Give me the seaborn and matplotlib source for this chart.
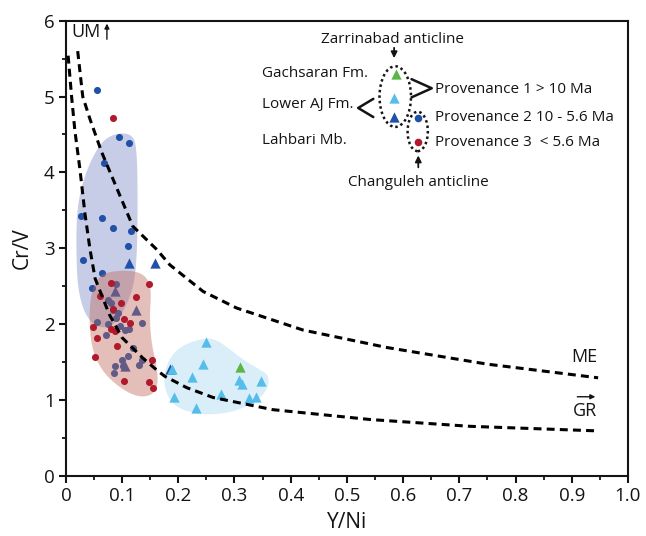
import numpy as np
import pandas as pd
import matplotlib
matplotlib.use("Agg")
import matplotlib.pyplot as plt
from matplotlib.patches import Ellipse
from matplotlib.ticker import MultipleLocator, FixedLocator, FixedFormatter
import seaborn as sns

# ---- samples: Y/Ni vs Cr/V ----
prov2_x = [0.055, 0.095, 0.113, 0.068, 0.027, 0.065, 0.083, 0.116, 0.110, 0.031, 0.0635, 0.047,
           0.090, 0.075, 0.081, 0.084, 0.093, 0.089, 0.056, 0.075, 0.096, 0.136, 0.105, 0.113,
           0.072, 0.119, 0.111, 0.136, 0.130, 0.099, 0.087, 0.101, 0.085]
prov2_y = [5.09, 4.47, 4.39, 4.12, 3.42, 3.40, 3.27, 3.23, 3.03, 2.84, 2.67, 2.47,
           2.53, 2.32, 2.28, 2.18, 2.15, 2.08, 2.02, 2.00, 1.98, 2.01, 1.92, 1.93,
           1.86, 1.68, 1.58, 1.52, 1.46, 1.52, 1.45, 1.44, 1.36]

lahbari_x = [0.112, 0.158, 0.087, 0.124, 0.105, 0.186]
lahbari_y = [2.81, 2.81, 2.43, 2.19, 1.44, 1.40]

prov3_x = [0.084, 0.081, 0.148, 0.060, 0.098, 0.124, 0.083, 0.104, 0.114, 0.080, 0.087,
           0.049, 0.056, 0.091, 0.052, 0.154, 0.103, 0.148, 0.155]
prov3_y = [4.72, 2.54, 2.53, 2.37, 2.28, 2.35, 2.20, 2.06, 2.01, 1.94, 1.91,
           1.96, 1.82, 1.71, 1.57, 1.52, 1.25, 1.23, 1.16]

lower_aj_x = [0.249, 0.244, 0.189, 0.224, 0.308, 0.314, 0.348, 0.193, 0.276, 0.326, 0.339, 0.231]
lower_aj_y = [1.76, 1.47, 1.41, 1.30, 1.26, 1.21, 1.25, 1.04, 1.08, 1.02, 1.04, 0.89]

gach_x = [0.310]
gach_y = [1.43]

# ---- field envelopes ----
env_blue_x = [0.098, 0.116, 0.126, 0.128, 0.126, 0.114, 0.082, 0.043, 0.021, 0.018, 0.021, 0.037, 0.060, 0.078]
env_blue_y = [4.52, 4.50, 4.37, 3.64, 2.73, 2.32, 1.93, 1.99, 2.39, 3.12, 3.61, 4.04, 4.37, 4.48]

env_red_x = [0.072, 0.105, 0.132, 0.146, 0.152, 0.149, 0.152, 0.164, 0.162, 0.146, 0.123, 0.096, 0.066, 0.046, 0.041, 0.046, 0.060]
env_red_y = [2.68, 2.71, 2.68, 2.59, 2.43, 2.10, 1.75, 1.36, 1.13, 1.04, 1.05, 1.16, 1.36, 1.66, 2.10, 2.45, 2.63]

env_lb_x = [0.247, 0.203, 0.179, 0.173, 0.191, 0.238, 0.286, 0.322, 0.357, 0.363, 0.345, 0.315, 0.286, 0.268]
env_lb_y = [1.82, 1.71, 1.49, 1.18, 0.91, 0.80, 0.82, 0.91, 1.09, 1.31, 1.40, 1.53, 1.70, 1.79]

# ---- discrimination boundaries ----
me_x = [0.021, 0.030, 0.043, 0.0635, 0.119, 0.162, 0.185, 0.244, 0.304, 0.422, 0.571, 0.75, 0.947]
me_y = [5.60, 5.00, 4.70, 4.27, 3.29, 2.98, 2.78, 2.43, 2.21, 1.92, 1.69, 1.47, 1.29]

gr_x = [0.004, 0.010, 0.016, 0.025, 0.034, 0.043, 0.052, 0.077, 0.100, 0.137, 0.162, 0.176,
        0.215, 0.262, 0.368, 0.541, 0.719, 0.945]
gr_y = [5.54, 5.01, 4.55, 4.04, 3.45, 2.98, 2.60, 2.13, 1.82, 1.55, 1.39, 1.31,
        1.16, 1.03, 0.87, 0.74, 0.65, 0.59]

x_ticks = [0, 0.1, 0.2, 0.3, 0.4, 0.5, 0.6, 0.7, 0.8, 0.9, 1.0]
x_ticklabels = ["0", "0.1", "0.2", "0.3", "0.4", "0.5", "0.6", "0.7", "0.8", "0.9", "1.0"]
y_ticks = [0, 1, 2, 3, 4, 5, 6]

C_BLUE = "#2051a6"
C_RED = "#b11a2c"
C_LBLUE = "#55bdea"
C_GREEN = "#5db546"
INK = "#141414"

sns.set_style("ticks")
plt.rcParams["font.family"] = ["Open Sans", "DejaVu Sans"]
plt.rcParams["text.color"] = INK
plt.rcParams["axes.labelcolor"] = INK
plt.rcParams["axes.linewidth"] = 1.5
plt.rcParams["xtick.major.width"] = 1.5
plt.rcParams["ytick.major.width"] = 1.5
plt.rcParams["xtick.minor.width"] = 1.3
plt.rcParams["ytick.minor.width"] = 1.3


def chaikin(x, y, n=4):
    pts = np.column_stack([x, y])
    for _ in range(n):
        nxt = np.roll(pts, -1, axis=0)
        q = 0.75 * pts + 0.25 * nxt
        r = 0.25 * pts + 0.75 * nxt
        pts = np.empty((2 * len(q), 2))
        pts[0::2] = q
        pts[1::2] = r
    return pts[:, 0], pts[:, 1]


fig = plt.figure(figsize=(6.46, 5.36), dpi=100)
ax = fig.add_axes([0.102, 0.1127, 0.870, 0.8485])

# blue and light-blue fields with their samples
bx, by = chaikin(env_blue_x, env_blue_y)
ax.fill(bx, by, color="#7b86c8", alpha=0.42, lw=0, zorder=1)
lx, ly = chaikin(env_lb_x, env_lb_y)
ax.fill(lx, ly, color="#9fd3f3", alpha=0.38, lw=0, zorder=1)

df2 = pd.DataFrame({"x": prov2_x, "y": prov2_y})
sns.scatterplot(data=df2, x="x", y="y", color=C_BLUE, s=26, marker="o", linewidth=0, ax=ax, zorder=2)
dfl = pd.DataFrame({"x": lahbari_x, "y": lahbari_y})
sns.scatterplot(data=dfl, x="x", y="y", color=C_BLUE, s=55, marker="^", linewidth=0, ax=ax, zorder=2)
dfa = pd.DataFrame({"x": lower_aj_x, "y": lower_aj_y})
sns.scatterplot(data=dfa, x="x", y="y", color=C_LBLUE, s=55, marker="^", linewidth=0, ax=ax, zorder=3)
dfg = pd.DataFrame({"x": gach_x, "y": gach_y})
sns.scatterplot(data=dfg, x="x", y="y", color=C_GREEN, s=55, marker="^", linewidth=0, ax=ax, zorder=3)

# red field drawn over the blue samples, then Provenance 3 samples
rx, ry = chaikin(env_red_x, env_red_y)
ax.fill(rx, ry, color="#c0685a", alpha=0.42, lw=0, zorder=4)
df3 = pd.DataFrame({"x": prov3_x, "y": prov3_y})
sns.scatterplot(data=df3, x="x", y="y", color=C_RED, s=26, marker="o", linewidth=0, ax=ax, zorder=5)

# boundaries
dash = (0, (2.6, 1.7))
ax.plot(me_x, me_y, color="black", lw=2.2, ls=dash, zorder=6)
ax.plot(gr_x, gr_y, color="black", lw=2.2, ls=dash, zorder=6)

ax.set_xlim(0, 1.0)
ax.set_ylim(0, 6)
ax.xaxis.set_major_locator(FixedLocator(x_ticks))
ax.xaxis.set_major_formatter(FixedFormatter(x_ticklabels))
ax.xaxis.set_minor_locator(MultipleLocator(0.05))
ax.yaxis.set_major_locator(FixedLocator(y_ticks))
ax.yaxis.set_minor_locator(MultipleLocator(0.5))
ax.tick_params(which="major", direction="out", length=5, labelsize=13.5, colors=INK, pad=3)
ax.tick_params(which="minor", direction="out", length=3, colors=INK)
for s in ax.spines.values():
    s.set_visible(True)
    s.set_color(INK)
ax.set_xlabel("Y/Ni", fontsize=15, labelpad=5)
ax.set_ylabel("Cr/V", fontsize=15, labelpad=8)

# field labels
ax.text(0.010, 5.97, "UM", fontsize=13, ha="left", va="top")
ax.annotate("", xy=(0.073, 6.0), xytext=(0.073, 5.72),
            arrowprops=dict(arrowstyle="-|>", lw=1.0, color=INK, mutation_scale=7))
ax.text(0.945, 1.50, "ME", fontsize=13, ha="right", va="baseline")
ax.text(0.945, 0.78, "GR", fontsize=13, ha="right", va="baseline")
ax.annotate("", xy=(0.947, 1.04), xytext=(0.905, 1.04),
            arrowprops=dict(arrowstyle="-|>", lw=1.0, color=INK, mutation_scale=7))

# key
fs = 11
ax.text(0.582, 5.75, "Zarrinabad anticline", fontsize=fs, ha="center", va="center")
ax.annotate("", xy=(0.584, 5.47), xytext=(0.584, 5.68),
            arrowprops=dict(arrowstyle="-|>", lw=1.3, color=INK, mutation_scale=9))
ax.text(0.349, 5.31, "Gachsaran Fm.", fontsize=fs, ha="left", va="center")
ax.text(0.349, 4.89, "Lower AJ Fm.", fontsize=fs, ha="left", va="center")
ax.text(0.349, 4.42, "Lahbari Mb.", fontsize=fs, ha="left", va="center")
ax.scatter([0.587], [5.30], s=55, marker="^", color=C_GREEN, lw=0, zorder=7)
ax.scatter([0.584], [4.98], s=55, marker="^", color=C_LBLUE, lw=0, zorder=7)
ax.scatter([0.584], [4.73], s=55, marker="^", color=C_BLUE, lw=0, zorder=7)
ax.scatter([0.627], [4.72], s=30, marker="o", color=C_BLUE, lw=0, zorder=7)
ax.scatter([0.627], [4.40], s=30, marker="o", color=C_RED, lw=0, zorder=7)
ax.add_patch(Ellipse((0.586, 5.00), 0.056, 0.80, angle=0, fill=False, ls=(0, (1, 1.2)), lw=1.8, color=INK, zorder=7))
ax.add_patch(Ellipse((0.626, 4.54), 0.036, 0.52, angle=0, fill=False, ls=(0, (1, 1.2)), lw=1.8, color=INK, zorder=7))
ax.plot([0.547, 0.520, 0.547], [4.97, 4.85, 4.73], color=INK, lw=1.8, zorder=7)
ax.plot([0.615, 0.651, 0.615], [5.23, 5.11, 4.99], color=INK, lw=1.8, zorder=7)
ax.text(0.657, 5.10, "Provenance 1 > 10 Ma", fontsize=fs, ha="left", va="center")
ax.text(0.657, 4.72, "Provenance 2 10 - 5.6 Ma", fontsize=fs, ha="left", va="center")
ax.text(0.657, 4.40, "Provenance 3  < 5.6 Ma", fontsize=fs, ha="left", va="center")
ax.annotate("", xy=(0.627, 4.26), xytext=(0.627, 4.03),
            arrowprops=dict(arrowstyle="-|>", lw=1.3, color=INK, mutation_scale=9))
ax.text(0.627, 3.87, "Changuleh anticline", fontsize=fs, ha="center", va="center")

fig.savefig("out.png", dpi=100)
